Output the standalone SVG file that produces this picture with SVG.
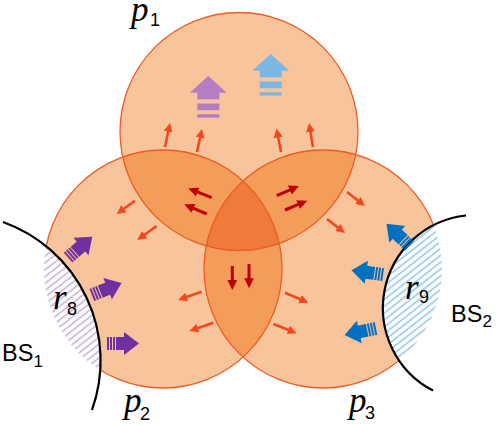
<svg xmlns="http://www.w3.org/2000/svg" width="498" height="425" viewBox="0 0 498 425">
<style>
.base{fill:#F8C49B}
.dbl{fill:#F49D5A}
.tri{fill:#EE7A3C}
.ring{fill:none;stroke:#EF5B22;stroke-width:1.3}
.bs{fill:none;stroke:#000;stroke-width:2.2}
.ra{stroke:#F5461E;stroke-width:2.6;fill:none}
.da{stroke:#C00000;stroke-width:3;fill:none}
.it{font-family:"Liberation Serif","Times New Roman",serif;font-style:italic;font-size:35px;fill:#000}
.sub{font-family:"Liberation Sans",Arial,sans-serif;font-size:18px;fill:#000}
.bsl{font-family:"Liberation Sans",Arial,sans-serif;font-size:23.5px;fill:#000}
.bss{font-family:"Liberation Sans",Arial,sans-serif;font-size:17px;fill:#000}
</style>
<defs>
<clipPath id="cp1"><circle cx="239" cy="131.5" r="119"/></clipPath>
<clipPath id="cp2"><circle cx="163" cy="269" r="119"/></clipPath>
<clipPath id="cp3"><circle cx="323" cy="269" r="119"/></clipPath>
<clipPath id="cbs1"><circle cx="-47" cy="360" r="147"/></clipPath>
<clipPath id="cbs2"><circle cx="476" cy="308" r="93"/></clipPath>
<pattern id="hatchP" patternUnits="userSpaceOnUse" width="10" height="5.4" patternTransform="rotate(-38)"><line x1="0" y1="2.7" x2="10" y2="2.7" stroke="#9B72CB" stroke-width="0.9"/></pattern>
<pattern id="hatchB" patternUnits="userSpaceOnUse" width="10" height="5.4" patternTransform="rotate(-38)"><line x1="0" y1="2.7" x2="10" y2="2.7" stroke="#3D9BE0" stroke-width="0.9"/></pattern>
<marker id="mr" markerUnits="userSpaceOnUse" markerWidth="10" markerHeight="10" refX="1" refY="0" viewBox="0 -5 10 10" orient="auto"><path d="M0,-4.5 L9,0 L0,4.5 z" fill="#F5461E"/></marker>
<marker id="md" markerUnits="userSpaceOnUse" markerWidth="11" markerHeight="11" refX="1" refY="0" viewBox="0 -5.5 11 11" orient="auto"><path d="M0,-4.8 L10,0 L0,4.8 z" fill="#C00000"/></marker>
<g id="uparrow"><polygon points="-18.5,16.7 0,0 18.5,16.7"/><rect x="-11" y="16.4" width="22" height="6.9"/><rect x="-11" y="27.5" width="22" height="6.7"/><rect x="-11" y="38.2" width="22" height="3.4"/></g>
<g id="bigarrow"><rect x="-16" y="-6.5" width="2" height="13"/><rect x="-13" y="-6.5" width="2" height="13"/><rect x="-10" y="-6.5" width="2" height="13"/><rect x="-7" y="-6.5" width="8.5" height="13"/><polygon points="1,-11.5 16,0 1,11.5"/></g>
</defs>
<g id="p1"><circle class="base" cx="239" cy="131.5" r="119"/></g>
<g id="p2"><circle class="base" cx="163" cy="269" r="119"/></g>
<g id="p3"><circle class="base" cx="323" cy="269" r="119"/></g>
<g id="overlaps">
<circle class="dbl" cx="163" cy="269" r="119" clip-path="url(#cp1)"/>
<circle class="dbl" cx="323" cy="269" r="119" clip-path="url(#cp1)"/>
<circle class="dbl" cx="323" cy="269" r="119" clip-path="url(#cp2)"/>
<g clip-path="url(#cp1)"><circle class="tri" cx="323" cy="269" r="119" clip-path="url(#cp2)"/></g>
</g>
<g id="rings">
<circle class="ring" cx="239" cy="131.5" r="119"/>
<circle class="ring" cx="163" cy="269" r="119"/>
<circle class="ring" cx="323" cy="269" r="119"/>
</g>
<g id="BS1">
<circle cx="-47" cy="360" r="147" fill="#fff"/>
<circle cx="163" cy="269" r="119" fill="url(#hatchP)" clip-path="url(#cbs1)"/>
<path class="bs" d="M3,222 A147,147 0 0 1 92,410"/>
</g>
<g id="BS2">
<circle cx="476" cy="308" r="93" fill="#fff"/>
<circle cx="323" cy="269" r="119" fill="url(#hatchB)" clip-path="url(#cbs2)"/>
<path class="bs" d="M466,215.5 A93,93 0 0 0 433,390.5"/>
</g>
<g id="connectors">
<line class="ra" x1="165" y1="147" x2="168.4" y2="130.8" marker-end="url(#mr)"/>
<line class="ra" x1="197" y1="152" x2="200.3" y2="136.8" marker-end="url(#mr)"/>
<line class="ra" x1="281" y1="152" x2="278" y2="136.4" marker-end="url(#mr)"/>
<line class="ra" x1="313" y1="147" x2="310.3" y2="130.9" marker-end="url(#mr)"/>
<line class="ra" x1="135" y1="200.7" x2="123.2" y2="209.3" marker-end="url(#mr)"/>
<line class="ra" x1="156.7" y1="226" x2="143.8" y2="235.3" marker-end="url(#mr)"/>
<line class="ra" x1="201.7" y1="291.7" x2="185.8" y2="297.3" marker-end="url(#mr)"/>
<line class="ra" x1="213.3" y1="322.7" x2="196.9" y2="328.4" marker-end="url(#mr)"/>
<line class="ra" x1="285" y1="292.7" x2="301" y2="299.5" marker-end="url(#mr)"/>
<line class="ra" x1="273.3" y1="324" x2="289.3" y2="330.3" marker-end="url(#mr)"/>
<line class="ra" x1="347" y1="192" x2="358.7" y2="201.1" marker-end="url(#mr)"/>
<line class="ra" x1="327" y1="219" x2="338.7" y2="228.1" marker-end="url(#mr)"/>
<line class="da" x1="211.7" y1="197.7" x2="196.7" y2="191.7" marker-end="url(#md)"/>
<line class="da" x1="206.7" y1="214" x2="192.6" y2="207.9" marker-end="url(#md)"/>
<line class="da" x1="276.7" y1="195.7" x2="290.7" y2="189.6" marker-end="url(#md)"/>
<line class="da" x1="285" y1="210" x2="299" y2="204.2" marker-end="url(#md)"/>
<line class="da" x1="232.3" y1="266" x2="232.3" y2="281" marker-end="url(#md)"/>
<line class="da" x1="249" y1="264" x2="249" y2="279.3" marker-end="url(#md)"/>
</g>
<g id="up-arrows">
<use href="#uparrow" transform="translate(208.3,76)" fill="#B67CC4"/>
<use href="#uparrow" transform="translate(270.7,54)" fill="#7BB7E3"/>
</g>
<g id="purple-arrows" fill="#7030A0">
<use href="#bigarrow" transform="translate(80.2,247.2) rotate(-41)"/>
<use href="#bigarrow" transform="translate(106.7,289) rotate(-22)"/>
<use href="#bigarrow" transform="translate(123,343.5)"/>
</g>
<g id="blue-arrows" fill="#0070C0">
<use href="#bigarrow" transform="translate(398,234.9) rotate(-136)"/>
<use href="#bigarrow" transform="translate(367.3,272.4) rotate(-172)"/>
<use href="#bigarrow" transform="translate(360.3,331.7) rotate(168)"/>
</g>
<g id="labels">
<text class="it" x="131" y="21">p</text><text class="sub" x="150" y="26">1</text>
<text class="it" x="124" y="412">p</text><text class="sub" x="140" y="420">2</text>
<text class="it" x="349" y="412">p</text><text class="sub" x="365" y="419">3</text>
<text class="it" x="53" y="309">r</text><text class="sub" x="67" y="315">8</text>
<text class="it" x="405" y="299">r</text><text class="sub" x="419" y="303">9</text>
<text class="bsl" x="2" y="361">BS</text><text class="bss" x="33.5" y="367">1</text>
<text class="bsl" x="451" y="322">BS</text><text class="bss" x="482.5" y="327">2</text>
</g>
</svg>
